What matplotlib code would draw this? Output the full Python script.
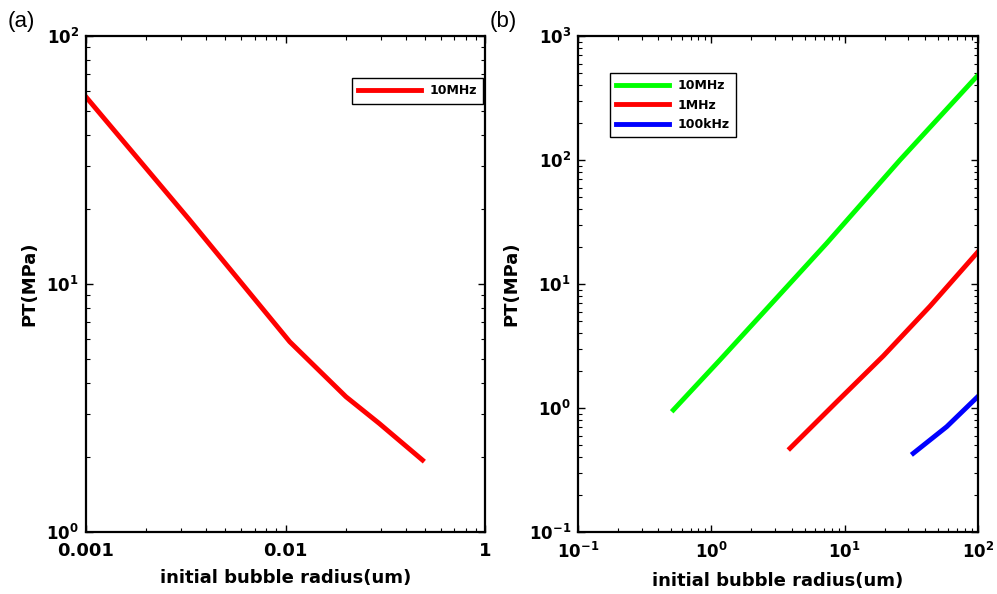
import matplotlib
matplotlib.use("Agg")
import matplotlib.pyplot as plt
from matplotlib.ticker import LogLocator, FixedLocator, NullFormatter

# ---- data ----
# panel (a): 10 MHz
a_radius = [0.001, 0.00331, 0.0105, 0.0201, 0.0295, 0.0486]
a_pt = [56.8, 18.1, 5.85, 3.51, 2.74, 1.95]

# panel (b)
b_radius_10MHz = [0.519, 1.16, 7.33, 26.0, 100.0]
b_pt_10MHz = [0.964, 2.44, 21.3, 100.0, 484.0]
b_radius_1MHz = [3.89, 8.71, 19.5, 43.6, 100.0]
b_pt_1MHz = [0.473, 1.12, 2.63, 6.61, 18.2]
b_radius_100kHz = [32.7, 58.2, 100.0]
b_pt_100kHz = [0.431, 0.706, 1.24]

a_xticks = [0.001, 0.01, 0.1]
a_xticklabels = ["0.001", "0.01", "1"]

plt.rcParams['font.family'] = ['DejaVu Sans']
plt.rcParams['mathtext.fontset'] = 'dejavusans'

fig = plt.figure(figsize=(9.97, 5.94), dpi=100)
axA = fig.add_axes([86/997, 62/594, 399/997, 496/594])
axB = fig.add_axes([578/997, 62/594, 400/997, 496/594])


def style(ax, xsize, ysize):
    for s in ax.spines.values():
        s.set_linewidth(1.6)
        s.set_color('black')
    ax.tick_params(which='both', direction='in', top=True, right=True)
    ax.tick_params(which='major', length=5, width=1.0)
    ax.tick_params(axis='x', which='major', labelsize=xsize, pad=7)
    ax.tick_params(axis='y', which='major', labelsize=ysize, pad=5)
    ax.tick_params(which='minor', length=3, width=0.8)
    ax.xaxis.set_minor_locator(LogLocator(base=10, subs=range(2, 10), numticks=20))
    ax.yaxis.set_minor_locator(LogLocator(base=10, subs=range(2, 10), numticks=20))
    ax.xaxis.set_minor_formatter(NullFormatter())
    ax.yaxis.set_minor_formatter(NullFormatter())
    for lab in ax.get_xticklabels() + ax.get_yticklabels():
        lab.set_fontweight('bold')


def pow_labels(exps):
    return [r'$\mathbf{10^{%d}}$' % e for e in exps]


def legend_box(ax, anchor, loc, hl):
    leg = ax.legend(loc=loc, bbox_to_anchor=anchor,
                    prop={'weight': 'bold', 'size': 9}, frameon=True, fancybox=False,
                    handlelength=hl, borderpad=0.5, handletextpad=0.7,
                    labelspacing=0.5, borderaxespad=0)
    leg.get_frame().set_edgecolor('black')
    leg.get_frame().set_linewidth(1.0)
    leg.get_frame().set_alpha(1)
    return leg

# ---- panel (a) ----
axA.plot(a_radius, a_pt, color='#ff0000', lw=3.5, label='10MHz')
axA.set_xscale('log')
axA.set_yscale('log')
axA.set_xlim(0.001, 0.1)
axA.set_ylim(1, 100)
axA.xaxis.set_major_locator(FixedLocator(a_xticks))
axA.set_xticklabels(a_xticklabels)
axA.yaxis.set_major_locator(FixedLocator([1, 10, 100]))
axA.set_yticklabels(pow_labels([0, 1, 2]))
style(axA, 13, 12)
axA.set_xlabel('initial bubble radius(um)', fontsize=13, fontweight='bold', labelpad=7)
axA.set_ylabel('PT(MPa)', fontsize=13, fontweight='bold', labelpad=6)
legend_box(axA, (0.995, 0.915), 'upper right', 5.0)

# ---- panel (b) ----
axB.plot(b_radius_10MHz, b_pt_10MHz, color='#00ff00', lw=3.5, label='10MHz')
axB.plot(b_radius_1MHz, b_pt_1MHz, color='#ff0000', lw=3.5, label='1MHz')
axB.plot(b_radius_100kHz, b_pt_100kHz, color='#0000ff', lw=3.5, label='100kHz')
axB.set_xscale('log')
axB.set_yscale('log')
axB.set_xlim(0.1, 100)
axB.set_ylim(0.1, 1000)
axB.xaxis.set_major_locator(FixedLocator([0.1, 1, 10, 100]))
axB.set_xticklabels(pow_labels([-1, 0, 1, 2]))
axB.yaxis.set_major_locator(FixedLocator([0.1, 1, 10, 100, 1000]))
axB.set_yticklabels(pow_labels([-1, 0, 1, 2, 3]))
style(axB, 12, 12)
axB.set_xlabel('initial bubble radius(um)', fontsize=13, fontweight='bold', labelpad=7)
axB.set_ylabel('PT(MPa)', fontsize=13, fontweight='bold', labelpad=6)
legend_box(axB, (0.08, 0.925), 'upper left', 4.2)

fig.text(8/997, 1 - 27/594, '(a)', fontsize=16, family=['Liberation Sans', 'DejaVu Sans'])
fig.text(490/997, 1 - 27/594, '(b)', fontsize=16, family=['Liberation Sans', 'DejaVu Sans'])

fig.savefig('out.png', dpi=100)
